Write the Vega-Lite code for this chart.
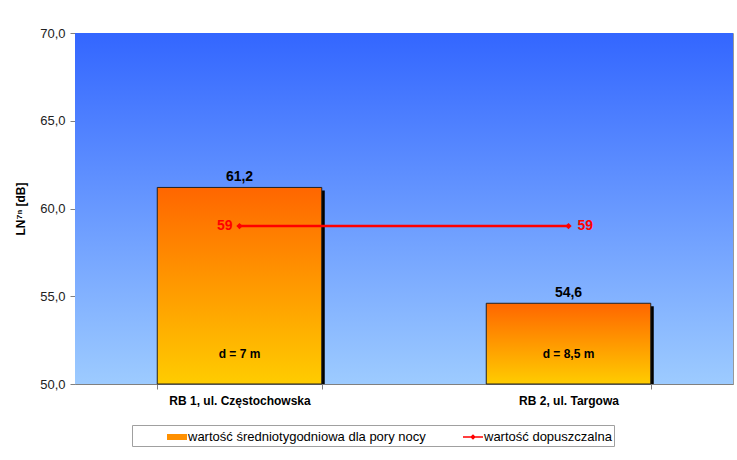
{
  "$schema": "https://vega.github.io/schema/vega-lite/v6.json",
  "width": 658,
  "height": 351,
  "autosize": "none",
  "padding": {"left": 75, "top": 33, "right": 4, "bottom": 76},
  "background": "white",
  "config": {
    "font": "Liberation Sans",
    "view": {"stroke": "#999999", "strokeWidth": 1},
    "axis": {"grid": false}
  },
  "datasets": {
    "bars": [
      {"site": "RB 1, ul. Częstochowska", "value": 61.2, "label": "61,2", "dist": "d = 7 m", "dpos": 51.7},
      {"site": "RB 2, ul. Targowa", "value": 54.6, "label": "54,6", "dist": "d = 8,5 m", "dpos": 51.7}
    ],
    "limit": [
      {"site": "RB 1, ul. Częstochowska", "limit": 59, "text": "59", "side": "left", "series": "wartość dopuszczalna"},
      {"site": "RB 2, ul. Targowa", "limit": 59, "text": "59", "side": "right", "series": "wartość dopuszczalna"}
    ]
  },
  "layer": [
    {
      "data": {"values": [{"lo": 50, "hi": 70}]},
      "mark": {
        "type": "rect",
        "color": {"gradient": "linear", "x1": 0, "y1": 0, "x2": 0, "y2": 1,
          "stops": [{"offset": 0, "color": "#3366FF"}, {"offset": 1, "color": "#9DCBFF"}]}
      },
      "encoding": {
        "y": {"field": "hi", "type": "quantitative", "scale": {"domain": [50, 70], "nice": false, "zero": false},
          "axis": {
            "values": [50, 55, 60, 65, 70],
            "labelExpr": "replace(format(datum.value, '.1f'), '.', ',')",
            "labelFontSize": 13, "labelColor": "#222222", "labelPadding": 5,
            "tickSize": 5, "tickColor": "#808080", "domain": false,
            "title": "LN⁷ⁿ [dB]", "titleFontSize": 12, "titleFontWeight": "bold", "titleColor": "#000000", "titlePadding": 12
          }},
        "y2": {"field": "lo"}
      }
    },
    {
      "data": {"name": "bars"},
      "mark": {"type": "bar", "color": "#000000", "xOffset": 3, "yOffset": 3, "clip": true},
      "encoding": {
        "x": {"field": "site", "type": "nominal", "sort": null,
          "scale": {"paddingInner": 0.5, "paddingOuter": 0.25},
          "axis": {"title": null, "labelAngle": 0, "labelFontSize": 12, "labelFontWeight": "bold", "labelColor": "#000000",
            "labelPadding": 6, "tickSize": 5, "tickBand": "extent", "tickColor": "#808080", "domainColor": "#808080"}},
        "y": {"field": "value", "type": "quantitative"},
        "y2": {"datum": 50}
      }
    },
    {
      "data": {"name": "bars"},
      "mark": {
        "type": "bar", "stroke": "#222222", "strokeWidth": 1,
        "fill": {"gradient": "linear", "x1": 0, "y1": 0, "x2": 0, "y2": 1,
          "stops": [{"offset": 0, "color": "#FF6600"}, {"offset": 1, "color": "#FFCC00"}]}
      },
      "encoding": {
        "x": {"field": "site", "type": "nominal", "sort": null},
        "y": {"field": "value", "type": "quantitative"},
        "y2": {"datum": 50}
      }
    },
    {
      "data": {"name": "bars"},
      "mark": {"type": "text", "fontSize": 14, "fontWeight": "bold", "color": "#000000", "baseline": "alphabetic", "dy": -6},
      "encoding": {
        "x": {"field": "site", "type": "nominal", "sort": null},
        "y": {"field": "value", "type": "quantitative"},
        "text": {"field": "label"}
      }
    },
    {
      "data": {"name": "bars"},
      "mark": {"type": "text", "fontSize": 12, "fontWeight": "bold", "color": "#000000", "baseline": "middle"},
      "encoding": {
        "x": {"field": "site", "type": "nominal", "sort": null},
        "y": {"field": "dpos", "type": "quantitative"},
        "text": {"field": "dist"}
      }
    },
    {
      "data": {"name": "limit"},
      "mark": {"type": "line", "color": "#FF0000", "strokeWidth": 2.5},
      "encoding": {
        "x": {"field": "site", "type": "nominal", "sort": null},
        "y": {"field": "limit", "type": "quantitative"}
      }
    },
    {
      "data": {"name": "limit"},
      "mark": {"type": "point", "shape": "diamond", "filled": true, "color": "#FF0000", "size": 40, "opacity": 1},
      "encoding": {
        "x": {"field": "site", "type": "nominal", "sort": null},
        "y": {"field": "limit", "type": "quantitative"}
      }
    },
    {
      "data": {"name": "limit"},
      "transform": [{"filter": "datum.side == 'left'"}],
      "mark": {"type": "text", "fontSize": 14, "fontWeight": "bold", "color": "#FF0000", "baseline": "middle", "align": "right", "dx": -7},
      "encoding": {
        "x": {"field": "site", "type": "nominal", "sort": null},
        "y": {"field": "limit", "type": "quantitative"},
        "text": {"field": "text"}
      }
    },
    {
      "data": {"name": "limit"},
      "transform": [{"filter": "datum.side == 'right'"}],
      "mark": {"type": "text", "fontSize": 14, "fontWeight": "bold", "color": "#FF0000", "baseline": "middle", "align": "left", "dx": 9},
      "encoding": {
        "x": {"field": "site", "type": "nominal", "sort": null},
        "y": {"field": "limit", "type": "quantitative"},
        "text": {"field": "text"}
      }
    },
    {
      "data": {"name": "limit"},
      "mark": {"type": "point", "filled": true, "opacity": 1},
      "encoding": {
        "x": {"field": "site", "type": "nominal", "sort": null},
        "y": {"field": "limit", "type": "quantitative"},
        "size": {"value": 0},
        "color": {"field": "series", "type": "nominal",
          "scale": {"domain": ["wartość średniotygodniowa dla pory nocy", "wartość dopuszczalna"], "range": ["#FF9000", "#FF0000"]},
          "legend": {
            "title": " ", "titleOrient": "left", "titlePadding": 33, "titleFontSize": 12,
            "orient": "none", "legendX": 57, "legendY": 392, "direction": "horizontal",
            "strokeColor": "#A0A0A0", "fillColor": "#FFFFFF", "padding": 2,
            "symbolSize": 400, "symbolOpacity": 1, "symbolStrokeWidth": 0,
            "labelFontSize": 13, "labelColor": "#000000", "labelOffset": 1, "columnPadding": 37, "labelLimit": 400
          }},
        "shape": {"field": "series", "type": "nominal",
          "scale": {"domain": ["wartość średniotygodniowa dla pory nocy", "wartość dopuszczalna"],
            "range": ["M-1,-0.3H1V0.3H-1Z", "M-1,-0.08H1V0.08H-1Z M-0.28,0L0,-0.28L0.28,0L0,0.28Z"]}}
      }
    }
  ]
}
